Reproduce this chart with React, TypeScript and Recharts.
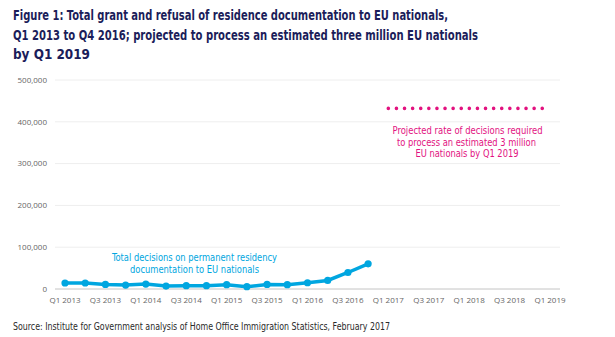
import { LineChart, Line, XAxis, YAxis, CartesianGrid } from "recharts";

const quarters = [
  "Q1 2013", "Q2 2013", "Q3 2013", "Q4 2013",
  "Q1 2014", "Q2 2014", "Q3 2014", "Q4 2014",
  "Q1 2015", "Q2 2015", "Q3 2015", "Q4 2015",
  "Q1 2016", "Q2 2016", "Q3 2016", "Q4 2016",
  "Q1 2017", "Q2 2017", "Q3 2017", "Q4 2017",
  "Q1 2018", "Q2 2018", "Q3 2018", "Q4 2018",
  "Q1 2019",
];

// total decisions per quarter, Q1 2013 - Q4 2016
const decisions = [
  14300, 14300, 11000, 9500, 11900, 7100, 7900, 7900,
  10300, 5500, 11000, 10300, 15000, 20500, 39500, 60200,
];

// projected rate required, Q1 2017 - Q1 2019
const projected = [432000, 432000, 432000, 432000, 432000, 432000, 432000, 432000, 432000];

const yTicks = [0, 100000, 200000, 300000, 400000, 500000];

const titleLines = [
  "Figure 1: Total grant and refusal of residence documentation to EU nationals,",
  "Q1 2013 to Q4 2016; projected to process an estimated three million EU nationals",
  "by Q1 2019",
];

const blueNote = ["Total decisions on permanent residency", "documentation to EU nationals"];
const pinkNote = [
  "Projected rate of decisions required",
  "to process an estimated 3 million",
  "EU nationals by Q1 2019",
];

const BLUE = "#00a6e0";
const PINK = "#e2127f";
const NAVY = "#1b1d5a";
const FONT = "'Liberation Sans Narrow', 'DejaVu Sans Condensed', 'Open Sans', sans-serif";

const data = quarters.map((q, i) => ({
  q,
  decisions: i < decisions.length ? decisions[i] : null,
  projected: i >= decisions.length ? projected[i - decisions.length] : null,
}));

export default function App() {
  return (
    <div style={{ position: "absolute", left: 0, top: 0, width: 615, height: 337, background: "#fff" }}>
      <LineChart width={615} height={337} data={data} margin={{ top: 80, right: 55, bottom: 32, left: 0 }}>
        <CartesianGrid vertical={false} stroke="#eeeeee" />
        <XAxis
          dataKey="q"
          interval={1}
          padding={{ left: 10, right: 10 }}
          tickLine={false}
          axisLine={{ stroke: "#cccccc" }}
          height={16}
          tick={{ fontSize: 8, fill: "#666", fontFamily: "'Open Sans', sans-serif" }}
        />
        <YAxis
          width={55}
          domain={[0, 500000]}
          ticks={yTicks}
          axisLine={false}
          tickLine={false}
          tickFormatter={(v: number) => v.toLocaleString("en-US")}
          tick={{ fontSize: 8, fill: "#666", fontFamily: "'Open Sans', sans-serif" }}
        />
        <Line
          dataKey="decisions"
          stroke={BLUE}
          strokeWidth={3.5}
          dot={{ r: 3.6, fill: BLUE, stroke: "none" }}
          isAnimationActive={false}
        />
        <Line
          dataKey="projected"
          stroke={PINK}
          strokeWidth={3.6}
          strokeDasharray="0 8.1"
          strokeLinecap="round"
          dot={false}
          isAnimationActive={false}
        />
      </LineChart>
      <svg width={615} height={337} style={{ position: "absolute", left: 0, top: 0, pointerEvents: "none" }}>
        <g fontFamily={FONT} fontWeight="bold" fontSize={14.5} fill={NAVY}>
          <text x={13} y={20} textLength={435} lengthAdjust="spacingAndGlyphs">{titleLines[0]}</text>
          <text x={13} y={39.5} textLength={465} lengthAdjust="spacingAndGlyphs">{titleLines[1]}</text>
          <text x={13} y={59} textLength={77} lengthAdjust="spacingAndGlyphs">{titleLines[2]}</text>
        </g>
        <g fontFamily={FONT} fontSize={10.5} fill={BLUE} textAnchor="middle">
          <text x={194.5} y={261} textLength={165} lengthAdjust="spacingAndGlyphs">{blueNote[0]}</text>
          <text x={194.5} y={273} textLength={129} lengthAdjust="spacingAndGlyphs">{blueNote[1]}</text>
        </g>
        <g fontFamily={FONT} fontSize={10} fill={PINK} textAnchor="middle">
          <text x={467.5} y={134} textLength={150} lengthAdjust="spacingAndGlyphs">{pinkNote[0]}</text>
          <text x={466.5} y={145.5} textLength={139} lengthAdjust="spacingAndGlyphs">{pinkNote[1]}</text>
          <text x={467} y={156.5} textLength={103} lengthAdjust="spacingAndGlyphs">{pinkNote[2]}</text>
        </g>
        <text x={13} y={330} fontFamily={FONT} fontSize={11} fill="#2a2a2a" textLength={377} lengthAdjust="spacingAndGlyphs">
          Source: Institute for Government analysis of Home Office Immigration Statistics, February 2017
        </text>
      </svg>
    </div>
  );
}
